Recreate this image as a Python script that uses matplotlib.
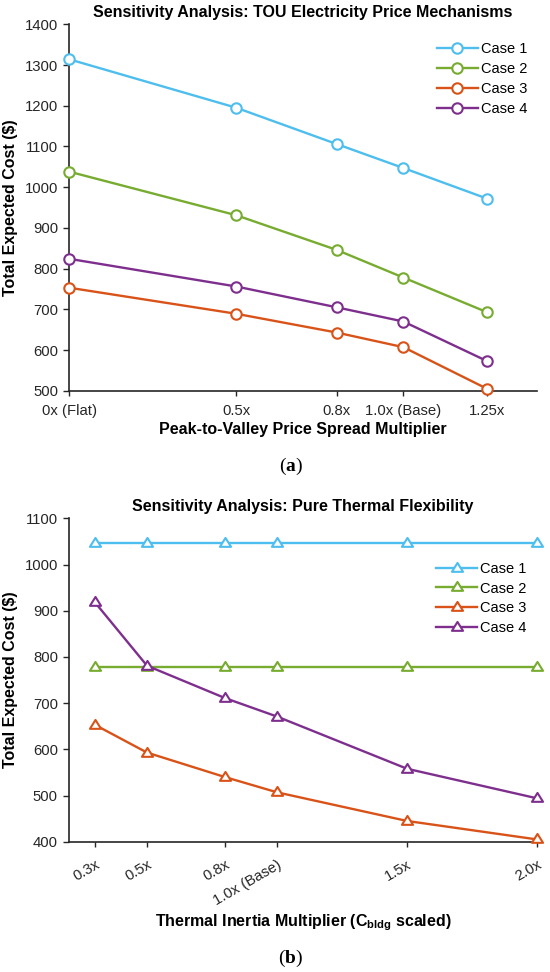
import matplotlib
matplotlib.use("Agg")
import matplotlib.pyplot as plt
from matplotlib.path import Path

plt.rcParams['font.family'] = ['Liberation Sans', 'DejaVu Sans']
plt.rcParams['mathtext.fontset'] = 'custom'
plt.rcParams['mathtext.rm'] = 'Liberation Serif'
plt.rcParams['mathtext.bf'] = 'Liberation Serif:bold'
plt.rcParams['mathtext.sf'] = 'Liberation Sans:bold'

# (a) TOU price spread
spread_x = [0.0, 0.5, 0.8, 1.0, 1.25]
spread_labels = ['0x (Flat)', '0.5x', '0.8x', '1.0x (Base)', '1.25x']
tou_case1 = [1314, 1195, 1106, 1047, 972]
tou_case2 = [1038, 931, 846, 778, 693]
tou_case3 = [753, 689, 643, 607, 505]
tou_case4 = [824, 756, 705, 670, 573]

# (b) thermal inertia
inertia_x = [0.3, 0.5, 0.8, 1.0, 1.5, 2.0]
inertia_labels = ['0.3x', '0.5x', '0.8x', '1.0x (Base)', '1.5x', '2.0x']
th_case1 = [1047, 1047, 1047, 1047, 1047, 1047]
th_case2 = [779, 779, 779, 779, 779, 779]
th_case3 = [653, 593, 540, 507, 445, 405]
th_case4 = [918, 781, 711, 671, 558, 494]

case_names = ['Case 1', 'Case 2', 'Case 3', 'Case 4']
colors = ['#4DBEEE', '#77AC30', '#D95319', '#7E2F8E']
dark = '#262626'

tri = Path([(0, 1.0), (-1, -0.6), (1, -0.6), (0, 1.0)],
           [Path.MOVETO, Path.LINETO, Path.LINETO, Path.CLOSEPOLY])


def style_axes(ax):
    for s in ['top', 'right']:
        ax.spines[s].set_visible(False)
    for s in ['left', 'bottom']:
        ax.spines[s].set_color(dark)
        ax.spines[s].set_linewidth(1.2)
    ax.tick_params(axis='y', direction='out', length=4.5, width=1.0,
                   colors=dark, labelsize=10.7, pad=3.5)
    ax.tick_params(axis='x', direction='out', length=3.5, width=1.0,
                   colors=dark, labelsize=10.7)


fig = plt.figure(figsize=(5.5, 9.72), dpi=100)

# ---- top panel
ax1 = fig.add_axes([0.126, 0.598, 0.8504, 0.3770])
for ys, c, n in zip([tou_case1, tou_case2, tou_case3, tou_case4], colors, case_names):
    ax1.plot(spread_x, ys, color=c, lw=1.7, marker='o', ms=7.5, mew=1.5,
             mfc='white', mec=c, label=n, clip_on=False, zorder=3)
ax1.set_xlim(0, 1.4)
ax1.set_ylim(500, 1400)
ax1.set_yticks(range(500, 1401, 100))
ax1.set_xticks(spread_x)
ax1.set_xticklabels(spread_labels)
style_axes(ax1)
ax1.tick_params(axis='x', pad=6)
ax1.set_title('Sensitivity Analysis: TOU Electricity Price Mechanisms',
              fontsize=11.5, fontweight='bold', pad=5)
ax1.set_xlabel('Peak-to-Valley Price Spread Multiplier', fontsize=11.5,
               fontweight='bold', labelpad=3)
ax1.set_ylabel('Total Expected Cost ($)', fontsize=11.5, fontweight='bold', labelpad=5)
ax1.legend(loc='upper right', bbox_to_anchor=(0.979, 0.951), frameon=False,
           fontsize=10.5, borderpad=0, borderaxespad=0, handlelength=2.8,
           handletextpad=0.2, labelspacing=0.4, numpoints=1)

# ---- bottom panel
ax2 = fig.add_axes([0.1255, 0.134, 0.851, 0.3327])
for ys, c, n in zip([th_case1, th_case2, th_case3, th_case4], colors, case_names):
    ax2.plot(inertia_x, ys, color=c, lw=1.7, marker=tri, ms=8, mew=1.5,
             mfc='white', mec=c, label=n, clip_on=False, zorder=3)
ax2.set_xlim(0.2, 2.0)
ax2.set_ylim(400, 1100)
ax2.set_yticks(range(400, 1101, 100))
ax2.set_xticks(inertia_x)
style_axes(ax2)
ax2.set_xticklabels(inertia_labels, rotation=30, ha='right', rotation_mode='anchor')
ax2.tick_params(axis='x', pad=8)
ax2.set_title('Sensitivity Analysis: Pure Thermal Flexibility',
              fontsize=11.5, fontweight='bold', pad=5)
ax2.set_xlabel(r'Thermal Inertia Multiplier (C$_{\mathsf{bldg}}$ scaled)',
               fontsize=11.5, fontweight='bold', labelpad=3)
ax2.set_ylabel('Total Expected Cost ($)', fontsize=11.5, fontweight='bold', labelpad=5)
ax2.legend(loc='upper right', bbox_to_anchor=(0.977, 0.866), frameon=False,
           fontsize=10.5, borderpad=0, borderaxespad=0, handlelength=2.8,
           handletextpad=0.2, labelspacing=0.4, numpoints=1)

fig.text(290.5 / 550, 1 - 466.7 / 972, r'$\mathrm{(}\mathbf{a}\mathrm{)}$',
         ha='center', va='center', fontsize=14)
fig.text(290.5 / 550, 1 - 958 / 972, r'$\mathrm{(}\mathbf{b}\mathrm{)}$',
         ha='center', va='center', fontsize=14)

fig.savefig('out.png', dpi=100, facecolor='white')
